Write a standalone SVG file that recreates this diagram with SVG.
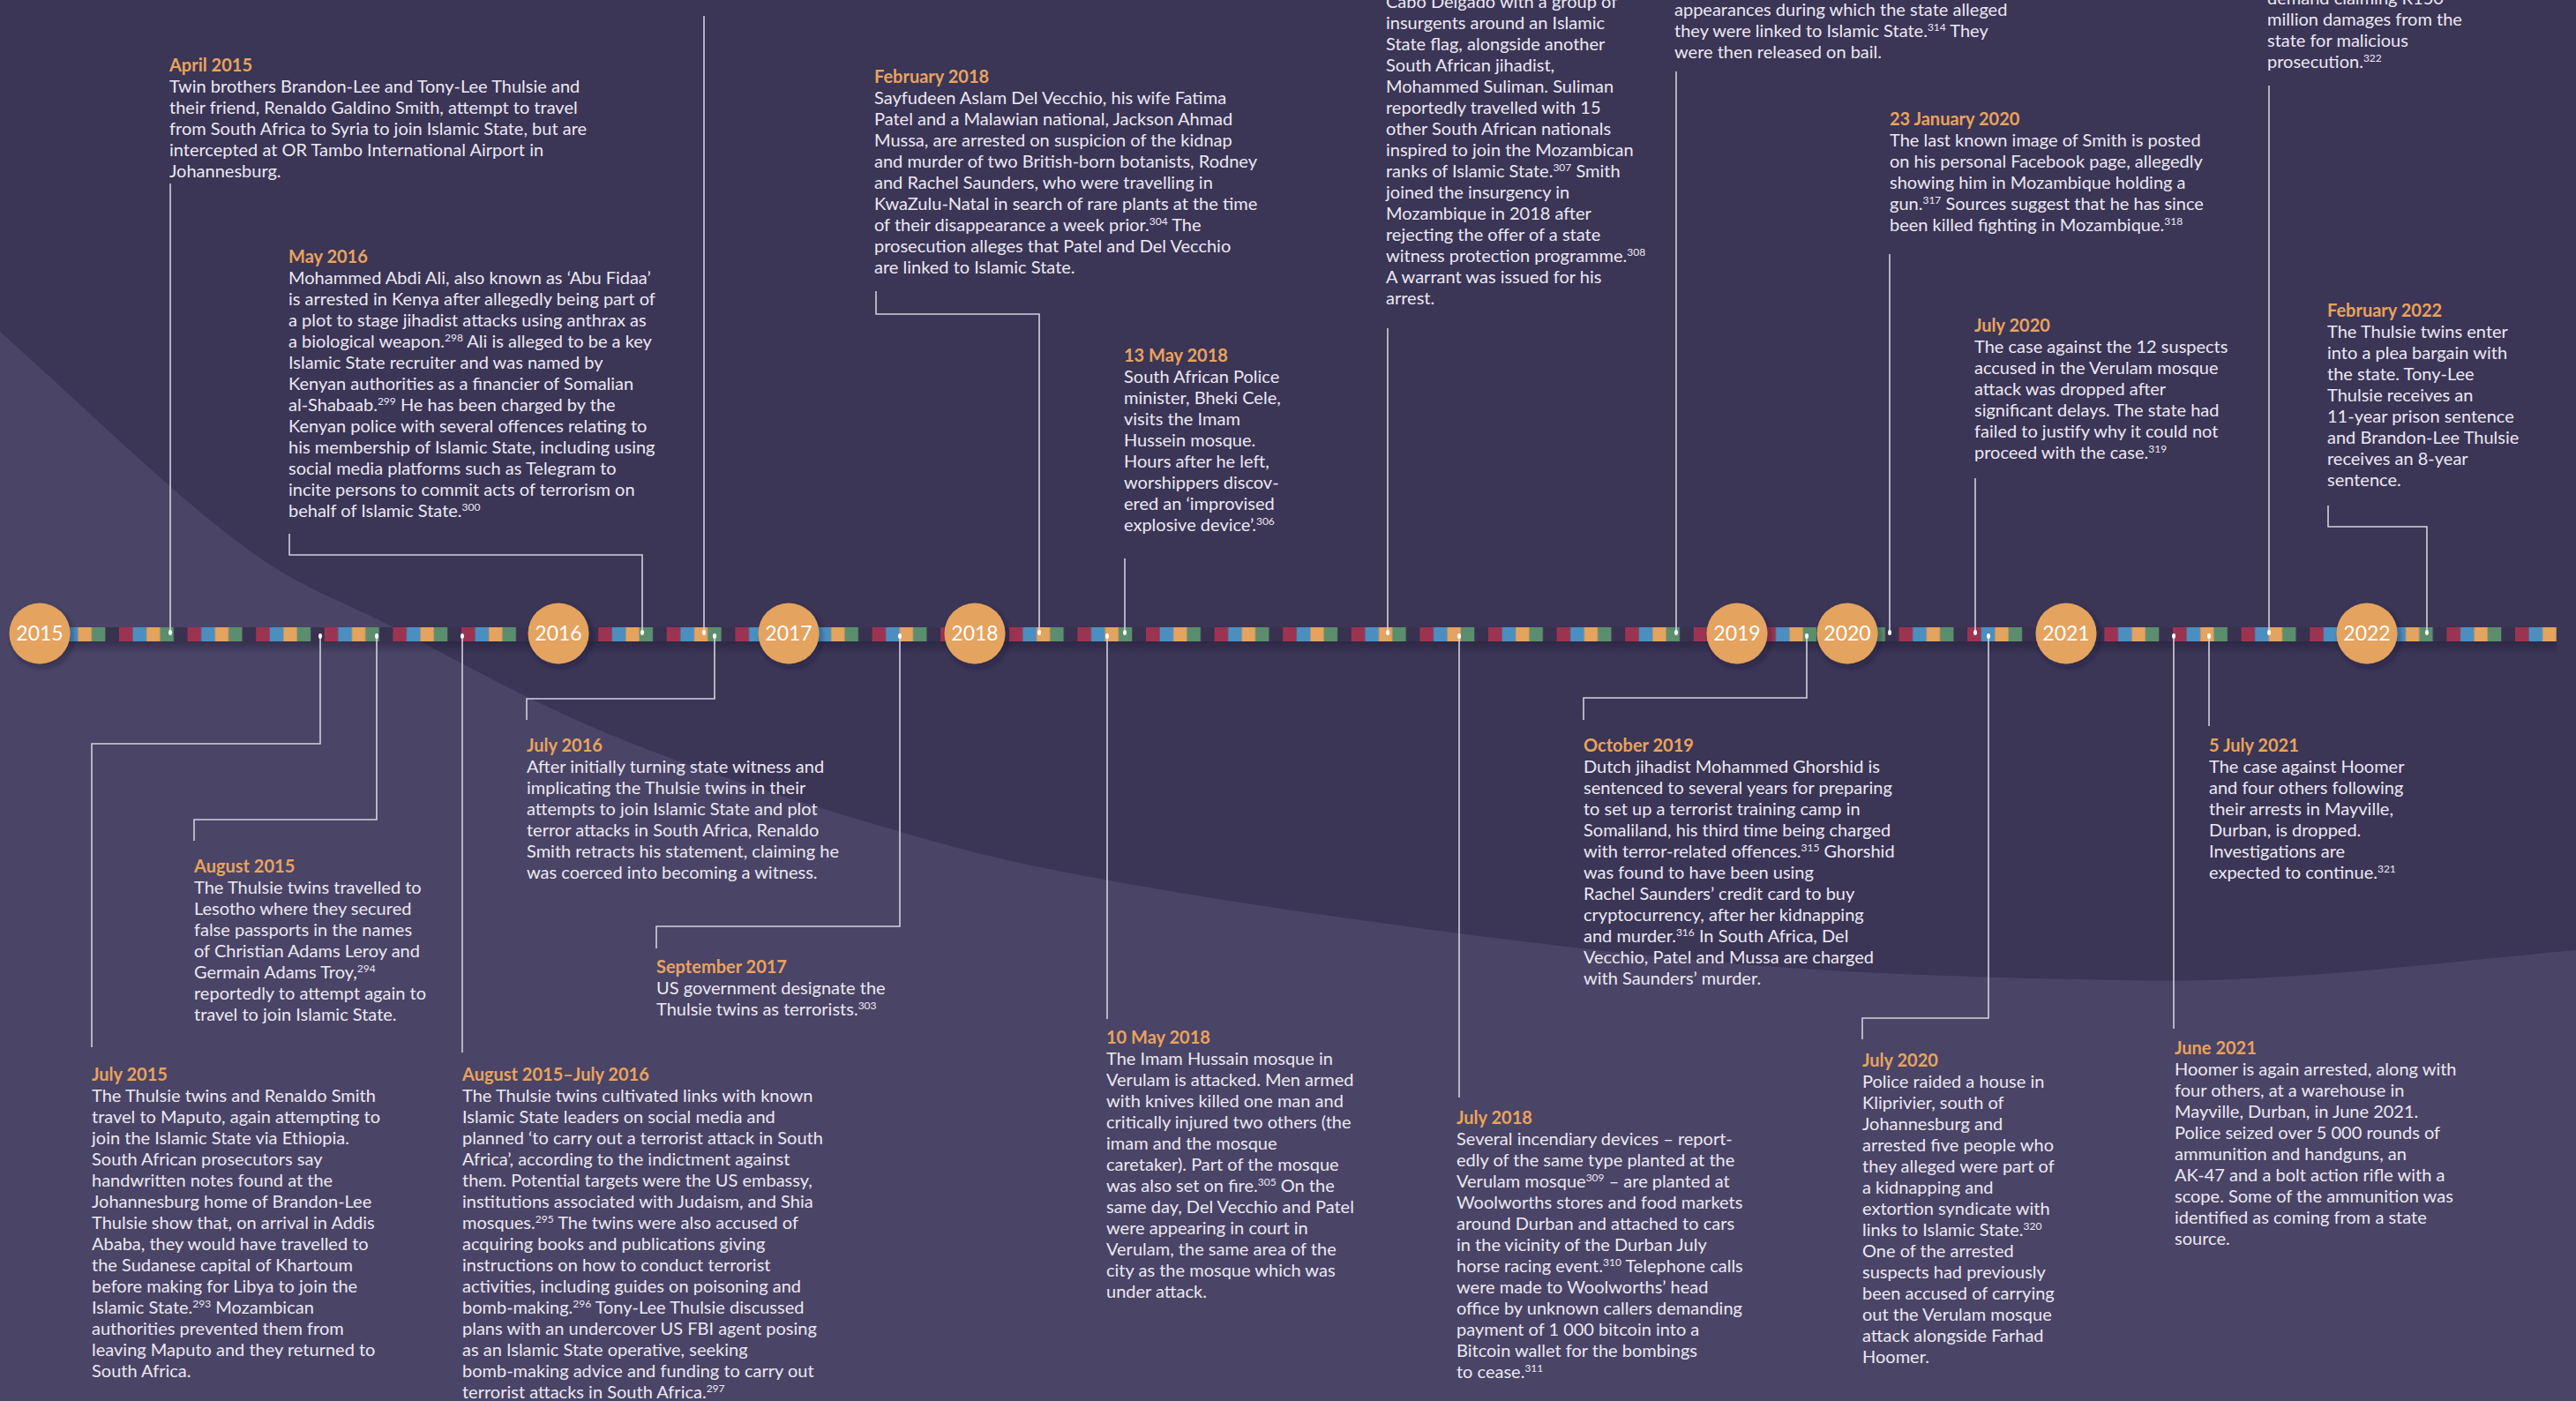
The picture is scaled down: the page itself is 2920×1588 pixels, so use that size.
<svg xmlns="http://www.w3.org/2000/svg" width="2920" height="1588" viewBox="0 0 2920 1588">
<defs>
<style>
.t{font-family:Lato,"Open Sans","Liberation Sans",sans-serif;font-size:20px;fill:#ebe8f1}
.d{font-family:Lato,"Open Sans","Liberation Sans",sans-serif;font-size:20px;font-weight:bold;fill:#e8a35c}
.s{font-size:12px}
.c{fill:none;stroke:#d3d0dc;stroke-width:1.6}
.dot{fill:#ffffff}
.yr{fill:#e4a35f;filter:url(#sh)}
.yt{font-family:Lato,"Open Sans","Liberation Sans",sans-serif;font-size:23px;fill:#ffffff;text-anchor:middle}
</style>
<filter id="sh" x="-30%" y="-30%" width="160%" height="160%">
<feDropShadow dx="3" dy="4" stdDeviation="3" flood-color="#1c1830" flood-opacity="0.45"/>
</filter>
<linearGradient id="bandsh" x1="0" y1="0" x2="0" y2="1">
<stop offset="0" stop-color="#1c1830" stop-opacity="0.45"/>
<stop offset="1" stop-color="#1c1830" stop-opacity="0"/>
</linearGradient>
<pattern id="stripes" x="135" y="711" width="77.6" height="16" patternUnits="userSpaceOnUse">
<rect x="0" y="0" width="15.6" height="16" fill="#9c3451"/>
<rect x="15.52" y="0" width="15.6" height="16" fill="#4b8fc1"/>
<rect x="31.04" y="0" width="15.6" height="16" fill="#e4a35f"/>
<rect x="46.56" y="0" width="15.6" height="16" fill="#5b8e6e"/>
<rect x="62.08" y="0" width="15.52" height="16" fill="#38314f"/>
</pattern>
</defs>

<rect x="0" y="0" width="2920" height="1588" fill="#3b3556"/>
<path d="M0,376 C89,455 194,558 268,613 C342,669 370,672 442,709 C514,746 605,798 700,836 C795,875 919,913 1011,940 C1103,967 1145,977 1252,997 C1359,1017 1529,1042 1654,1058 C1779,1074 1884,1086 2000,1095 C2116,1104 2254,1108 2352,1110 C2450,1112 2492,1113 2587,1107 C2682,1102 2809,1087 2920,1077 L2920,1588 L0,1588 Z" fill="#4a4466"/>

<g id="timeline">
<rect x="45" y="727" width="2853" height="14" fill="url(#bandsh)"/>
<rect x="45" y="711" width="2853" height="16" fill="url(#stripes)"/>
</g>

<g id="connectors">
<path class="c" d="M193,208 V717"/>
<path class="c" d="M328,605 V629 H728 V717"/>
<path class="c" d="M798,18 V717"/>
<path class="c" d="M993,330 V356 H1178 V717"/>
<path class="c" d="M1275,633 V717"/>
<path class="c" d="M1573,372 V717"/>
<path class="c" d="M1900,81 V717"/>
<path class="c" d="M2142,288 V717"/>
<path class="c" d="M2239,542 V717"/>
<path class="c" d="M2572,97 V717"/>
<path class="c" d="M2639,573 V597 H2751 V717"/>
<path class="c" d="M363,721 V843 H104 V1187"/>
<path class="c" d="M427,721 V929 H220 V953"/>
<path class="c" d="M524,721 V1193"/>
<path class="c" d="M810,721 V792 H597 V816"/>
<path class="c" d="M1020,721 V1050 H744 V1075"/>
<path class="c" d="M1255,721 V1155"/>
<path class="c" d="M1654,721 V1244"/>
<path class="c" d="M2048,721 V791 H1795 V816"/>
<path class="c" d="M2254,721 V1154 H2111 V1178"/>
<path class="c" d="M2464,721 V1166"/>
<path class="c" d="M2504,721 V823"/>
<g class="dot">
<ellipse cx="193" cy="717" rx="2" ry="3"/>
<ellipse cx="728" cy="717" rx="2" ry="3"/>
<ellipse cx="798" cy="717" rx="2" ry="3"/>
<ellipse cx="1178" cy="717" rx="2" ry="3"/>
<ellipse cx="1275" cy="717" rx="2" ry="3"/>
<ellipse cx="1573" cy="717" rx="2" ry="3"/>
<ellipse cx="1900" cy="717" rx="2" ry="3"/>
<ellipse cx="2142" cy="717" rx="2" ry="3"/>
<ellipse cx="2239" cy="717" rx="2" ry="3"/>
<ellipse cx="2572" cy="717" rx="2" ry="3"/>
<ellipse cx="2751" cy="717" rx="2" ry="3"/>
<ellipse cx="363" cy="721" rx="2" ry="3"/>
<ellipse cx="427" cy="721" rx="2" ry="3"/>
<ellipse cx="524" cy="721" rx="2" ry="3"/>
<ellipse cx="810" cy="721" rx="2" ry="3"/>
<ellipse cx="1020" cy="721" rx="2" ry="3"/>
<ellipse cx="1255" cy="721" rx="2" ry="3"/>
<ellipse cx="1654" cy="721" rx="2" ry="3"/>
<ellipse cx="2048" cy="721" rx="2" ry="3"/>
<ellipse cx="2254" cy="721" rx="2" ry="3"/>
<ellipse cx="2464" cy="721" rx="2" ry="3"/>
<ellipse cx="2504" cy="721" rx="2" ry="3"/>
</g>
</g>

<g id="years">
<g id="y2015"><circle class="yr" cx="45" cy="718" r="34.5"/><text class="yt" x="45" y="726">2015</text></g>
<g id="y2016"><circle class="yr" cx="633" cy="718" r="34.5"/><text class="yt" x="633" y="726">2016</text></g>
<g id="y2017"><circle class="yr" cx="894" cy="718" r="34.5"/><text class="yt" x="894" y="726">2017</text></g>
<g id="y2018"><circle class="yr" cx="1105" cy="718" r="34.5"/><text class="yt" x="1105" y="726">2018</text></g>
<g id="y2019"><circle class="yr" cx="1969" cy="718" r="34.5"/><text class="yt" x="1969" y="726">2019</text></g>
<g id="y2020"><circle class="yr" cx="2094" cy="718" r="34.5"/><text class="yt" x="2094" y="726">2020</text></g>
<g id="y2021"><circle class="yr" cx="2342" cy="718" r="34.5"/><text class="yt" x="2342" y="726">2021</text></g>
<g id="y2022"><circle class="yr" cx="2683" cy="718" r="34.5"/><text class="yt" x="2683" y="726">2022</text></g>
</g>

<g id="ev-apr2015">
<text class="d" x="192" y="81">April 2015</text>
<text class="t"><tspan x="192" y="105">Twin brothers Brandon-Lee and Tony-Lee Thulsie and</tspan><tspan x="192" y="129">their friend, Renaldo Galdino Smith, attempt to travel</tspan><tspan x="192" y="153">from South Africa to Syria to join Islamic State, but are</tspan><tspan x="192" y="177">intercepted at OR Tambo International Airport in</tspan><tspan x="192" y="201">Johannesburg.</tspan></text>
</g>

<g id="ev-may2016">
<text class="d" x="327" y="298">May 2016</text>
<text class="t"><tspan x="327" y="322">Mohammed Abdi Ali, also known as ‘Abu Fidaa’</tspan><tspan x="327" y="346">is arrested in Kenya after allegedly being part of</tspan><tspan x="327" y="370">a plot to stage jihadist attacks using anthrax as</tspan><tspan x="327" y="394">a biological weapon.</tspan><tspan class="s" dy="-7">298</tspan><tspan dy="7"> Ali is alleged to be a key</tspan><tspan x="327" y="418">Islamic State recruiter and was named by</tspan><tspan x="327" y="442">Kenyan authorities as a financier of Somalian</tspan><tspan x="327" y="466">al-Shabaab.</tspan><tspan class="s" dy="-7">299</tspan><tspan dy="7"> He has been charged by the</tspan><tspan x="327" y="490">Kenyan police with several offences relating to</tspan><tspan x="327" y="514">his membership of Islamic State, including using</tspan><tspan x="327" y="538">social media platforms such as Telegram to</tspan><tspan x="327" y="562">incite persons to commit acts of terrorism on</tspan><tspan x="327" y="586">behalf of Islamic State.</tspan><tspan class="s" dy="-7">300</tspan></text>
</g>

<g id="ev-feb2018">
<text class="d" x="991" y="94">February 2018</text>
<text class="t"><tspan x="991" y="118">Sayfudeen Aslam Del Vecchio, his wife Fatima</tspan><tspan x="991" y="142">Patel and a Malawian national, Jackson Ahmad</tspan><tspan x="991" y="166">Mussa, are arrested on suspicion of the kidnap</tspan><tspan x="991" y="190">and murder of two British-born botanists, Rodney</tspan><tspan x="991" y="214">and Rachel Saunders, who were travelling in</tspan><tspan x="991" y="238">KwaZulu-Natal in search of rare plants at the time</tspan><tspan x="991" y="262">of their disappearance a week prior.</tspan><tspan class="s" dy="-7">304</tspan><tspan dy="7"> The</tspan><tspan x="991" y="286">prosecution alleges that Patel and Del Vecchio</tspan><tspan x="991" y="310">are linked to Islamic State.</tspan></text>
</g>

<g id="ev-13may2018">
<text class="d" x="1274" y="410">13 May 2018</text>
<text class="t"><tspan x="1274" y="434">South African Police</tspan><tspan x="1274" y="458">minister, Bheki Cele,</tspan><tspan x="1274" y="482">visits the Imam</tspan><tspan x="1274" y="506">Hussein mosque.</tspan><tspan x="1274" y="530">Hours after he left,</tspan><tspan x="1274" y="554">worshippers discov-</tspan><tspan x="1274" y="578">ered an ‘improvised</tspan><tspan x="1274" y="602">explosive device’.</tspan><tspan class="s" dy="-7">306</tspan></text>
</g>

<g id="ev-cabo">
<text class="t"><tspan x="1571" y="9">Cabo Delgado with a group of</tspan><tspan x="1571" y="33">insurgents around an Islamic</tspan><tspan x="1571" y="57">State flag, alongside another</tspan><tspan x="1571" y="81">South African jihadist,</tspan><tspan x="1571" y="105">Mohammed Suliman. Suliman</tspan><tspan x="1571" y="129">reportedly travelled with 15</tspan><tspan x="1571" y="153">other South African nationals</tspan><tspan x="1571" y="177">inspired to join the Mozambican</tspan><tspan x="1571" y="201">ranks of Islamic State.</tspan><tspan class="s" dy="-7">307</tspan><tspan dy="7"> Smith</tspan><tspan x="1571" y="225">joined the insurgency in</tspan><tspan x="1571" y="249">Mozambique in 2018 after</tspan><tspan x="1571" y="273">rejecting the offer of a state</tspan><tspan x="1571" y="297">witness protection programme.</tspan><tspan class="s" dy="-7">308</tspan><tspan x="1571" y="321">A warrant was issued for his</tspan><tspan x="1571" y="345">arrest.</tspan></text>
</g>

<g id="ev-appearances">
<text class="t"><tspan x="1898" y="18">appearances during which the state alleged</tspan><tspan x="1898" y="42">they were linked to Islamic State.</tspan><tspan class="s" dy="-7">314</tspan><tspan dy="7"> They</tspan><tspan x="1898" y="66">were then released on bail.</tspan></text>
</g>

<g id="ev-23jan2020">
<text class="d" x="2142" y="142">23 January 2020</text>
<text class="t"><tspan x="2142" y="166">The last known image of Smith is posted</tspan><tspan x="2142" y="190">on his personal Facebook page, allegedly</tspan><tspan x="2142" y="214">showing him in Mozambique holding a</tspan><tspan x="2142" y="238">gun.</tspan><tspan class="s" dy="-7">317</tspan><tspan dy="7"> Sources suggest that he has since</tspan><tspan x="2142" y="262">been killed fighting in Mozambique.</tspan><tspan class="s" dy="-7">318</tspan></text>
</g>

<g id="ev-jul2020a">
<text class="d" x="2238" y="376">July 2020</text>
<text class="t"><tspan x="2238" y="400">The case against the 12 suspects</tspan><tspan x="2238" y="424">accused in the Verulam mosque</tspan><tspan x="2238" y="448">attack was dropped after</tspan><tspan x="2238" y="472">significant delays. The state had</tspan><tspan x="2238" y="496">failed to justify why it could not</tspan><tspan x="2238" y="520">proceed with the case.</tspan><tspan class="s" dy="-7">319</tspan></text>
</g>

<g id="ev-demand">
<text class="t"><tspan x="2570" y="5">demand claiming R150</tspan><tspan x="2570" y="29">million damages from the</tspan><tspan x="2570" y="53">state for malicious</tspan><tspan x="2570" y="77">prosecution.</tspan><tspan class="s" dy="-7">322</tspan></text>
</g>

<g id="ev-feb2022">
<text class="d" x="2638" y="359">February 2022</text>
<text class="t"><tspan x="2638" y="383">The Thulsie twins enter</tspan><tspan x="2638" y="407">into a plea bargain with</tspan><tspan x="2638" y="431">the state. Tony-Lee</tspan><tspan x="2638" y="455">Thulsie receives an</tspan><tspan x="2638" y="479">11-year prison sentence</tspan><tspan x="2638" y="503">and Brandon-Lee Thulsie</tspan><tspan x="2638" y="527">receives an 8-year</tspan><tspan x="2638" y="551">sentence.</tspan></text>
</g>

<g id="ev-jul2015">
<text class="d" x="104" y="1225">July 2015</text>
<text class="t"><tspan x="104" y="1249">The Thulsie twins and Renaldo Smith</tspan><tspan x="104" y="1273">travel to Maputo, again attempting to</tspan><tspan x="104" y="1297">join the Islamic State via Ethiopia.</tspan><tspan x="104" y="1321">South African prosecutors say</tspan><tspan x="104" y="1345">handwritten notes found at the</tspan><tspan x="104" y="1369">Johannesburg home of Brandon-Lee</tspan><tspan x="104" y="1393">Thulsie show that, on arrival in Addis</tspan><tspan x="104" y="1417">Ababa, they would have travelled to</tspan><tspan x="104" y="1441">the Sudanese capital of Khartoum</tspan><tspan x="104" y="1465">before making for Libya to join the</tspan><tspan x="104" y="1489">Islamic State.</tspan><tspan class="s" dy="-7">293</tspan><tspan dy="7"> Mozambican</tspan><tspan x="104" y="1513">authorities prevented them from</tspan><tspan x="104" y="1537">leaving Maputo and they returned to</tspan><tspan x="104" y="1561">South Africa.</tspan></text>
</g>

<g id="ev-aug2015">
<text class="d" x="220" y="989">August 2015</text>
<text class="t"><tspan x="220" y="1013">The Thulsie twins travelled to</tspan><tspan x="220" y="1037">Lesotho where they secured</tspan><tspan x="220" y="1061">false passports in the names</tspan><tspan x="220" y="1085">of Christian Adams Leroy and</tspan><tspan x="220" y="1109">Germain Adams Troy,</tspan><tspan class="s" dy="-7">294</tspan><tspan x="220" y="1133">reportedly to attempt again to</tspan><tspan x="220" y="1157">travel to join Islamic State.</tspan></text>
</g>

<g id="ev-aug2015-jul2016">
<text class="d" x="524" y="1225">August 2015–July 2016</text>
<text class="t"><tspan x="524" y="1249">The Thulsie twins cultivated links with known</tspan><tspan x="524" y="1273">Islamic State leaders on social media and</tspan><tspan x="524" y="1297">planned ‘to carry out a terrorist attack in South</tspan><tspan x="524" y="1321">Africa’, according to the indictment against</tspan><tspan x="524" y="1345">them. Potential targets were the US embassy,</tspan><tspan x="524" y="1369">institutions associated with Judaism, and Shia</tspan><tspan x="524" y="1393">mosques.</tspan><tspan class="s" dy="-7">295</tspan><tspan dy="7">  The twins were also accused of</tspan><tspan x="524" y="1417">acquiring books and publications giving</tspan><tspan x="524" y="1441">instructions on how to conduct terrorist</tspan><tspan x="524" y="1465">activities, including guides on poisoning and</tspan><tspan x="524" y="1489">bomb-making.</tspan><tspan class="s" dy="-7">296</tspan><tspan dy="7"> Tony-Lee Thulsie discussed</tspan><tspan x="524" y="1513">plans with an undercover US FBI agent posing</tspan><tspan x="524" y="1537">as an Islamic State operative, seeking</tspan><tspan x="524" y="1561">bomb-making advice and funding to carry out</tspan><tspan x="524" y="1585">terrorist attacks in South Africa.</tspan><tspan class="s" dy="-7">297</tspan></text>
</g>

<g id="ev-jul2016">
<text class="d" x="597" y="852">July 2016</text>
<text class="t"><tspan x="597" y="876">After initially turning state witness and</tspan><tspan x="597" y="900">implicating the Thulsie twins in their</tspan><tspan x="597" y="924">attempts to join Islamic State and plot</tspan><tspan x="597" y="948">terror attacks in South Africa, Renaldo</tspan><tspan x="597" y="972">Smith retracts his statement, claiming he</tspan><tspan x="597" y="996">was coerced into becoming a witness.</tspan></text>
</g>

<g id="ev-sep2017">
<text class="d" x="744" y="1103">September 2017</text>
<text class="t"><tspan x="744" y="1127">US government designate the</tspan><tspan x="744" y="1151">Thulsie twins as terrorists.</tspan><tspan class="s" dy="-7">303</tspan></text>
</g>

<g id="ev-10may2018">
<text class="d" x="1254" y="1183">10 May 2018</text>
<text class="t"><tspan x="1254" y="1207">The Imam Hussain mosque in</tspan><tspan x="1254" y="1231">Verulam is attacked. Men armed</tspan><tspan x="1254" y="1255">with knives killed one man and</tspan><tspan x="1254" y="1279">critically injured two others (the</tspan><tspan x="1254" y="1303">imam and the mosque</tspan><tspan x="1254" y="1327">caretaker). Part of the mosque</tspan><tspan x="1254" y="1351">was also set on fire.</tspan><tspan class="s" dy="-7">305</tspan><tspan dy="7"> On the</tspan><tspan x="1254" y="1375">same day, Del Vecchio and Patel</tspan><tspan x="1254" y="1399">were appearing in court in</tspan><tspan x="1254" y="1423">Verulam, the same area of the</tspan><tspan x="1254" y="1447">city as the mosque which was</tspan><tspan x="1254" y="1471">under attack.</tspan></text>
</g>

<g id="ev-jul2018">
<text class="d" x="1651" y="1274">July 2018</text>
<text class="t"><tspan x="1651" y="1298">Several incendiary devices – report-</tspan><tspan x="1651" y="1322">edly of the same type planted at the</tspan><tspan x="1651" y="1346">Verulam mosque</tspan><tspan class="s" dy="-7">309</tspan><tspan dy="7"> – are planted at</tspan><tspan x="1651" y="1370">Woolworths stores and food markets</tspan><tspan x="1651" y="1394">around Durban and attached to cars</tspan><tspan x="1651" y="1418">in the vicinity of the Durban July</tspan><tspan x="1651" y="1442">horse racing event.</tspan><tspan class="s" dy="-7">310</tspan><tspan dy="7"> Telephone calls</tspan><tspan x="1651" y="1466">were made to Woolworths’ head</tspan><tspan x="1651" y="1490">office by unknown callers demanding</tspan><tspan x="1651" y="1514">payment of 1 000 bitcoin into a</tspan><tspan x="1651" y="1538">Bitcoin wallet for the bombings</tspan><tspan x="1651" y="1562">to cease.</tspan><tspan class="s" dy="-7">311</tspan></text>
</g>

<g id="ev-oct2019">
<text class="d" x="1795" y="852">October 2019</text>
<text class="t"><tspan x="1795" y="876">Dutch jihadist Mohammed Ghorshid is</tspan><tspan x="1795" y="900">sentenced to several years for preparing</tspan><tspan x="1795" y="924">to set up a terrorist training camp in</tspan><tspan x="1795" y="948">Somaliland, his third time being charged</tspan><tspan x="1795" y="972">with terror-related offences.</tspan><tspan class="s" dy="-7">315</tspan><tspan dy="7"> Ghorshid</tspan><tspan x="1795" y="996">was found to have been using</tspan><tspan x="1795" y="1020">Rachel Saunders’ credit card to buy</tspan><tspan x="1795" y="1044">cryptocurrency, after her kidnapping</tspan><tspan x="1795" y="1068">and murder.</tspan><tspan class="s" dy="-7">316</tspan><tspan dy="7"> In South Africa, Del</tspan><tspan x="1795" y="1092">Vecchio, Patel and Mussa are charged</tspan><tspan x="1795" y="1116">with Saunders’ murder.</tspan></text>
</g>

<g id="ev-jul2020b">
<text class="d" x="2111" y="1209">July 2020</text>
<text class="t"><tspan x="2111" y="1233">Police raided a house in</tspan><tspan x="2111" y="1257">Kliprivier, south of</tspan><tspan x="2111" y="1281">Johannesburg and</tspan><tspan x="2111" y="1305">arrested five people who</tspan><tspan x="2111" y="1329">they alleged were part of</tspan><tspan x="2111" y="1353">a kidnapping and</tspan><tspan x="2111" y="1377">extortion syndicate with</tspan><tspan x="2111" y="1401">links to Islamic State.</tspan><tspan class="s" dy="-7">320</tspan><tspan x="2111" y="1425">One of the arrested</tspan><tspan x="2111" y="1449">suspects had previously</tspan><tspan x="2111" y="1473">been accused of carrying</tspan><tspan x="2111" y="1497">out the Verulam mosque</tspan><tspan x="2111" y="1521">attack alongside Farhad</tspan><tspan x="2111" y="1545">Hoomer.</tspan></text>
</g>

<g id="ev-jun2021">
<text class="d" x="2465" y="1195">June 2021</text>
<text class="t"><tspan x="2465" y="1219">Hoomer is again arrested, along with</tspan><tspan x="2465" y="1243">four others, at a warehouse in</tspan><tspan x="2465" y="1267">Mayville, Durban, in June 2021.</tspan><tspan x="2465" y="1291">Police seized over 5 000 rounds of</tspan><tspan x="2465" y="1315">ammunition and handguns, an</tspan><tspan x="2465" y="1339">AK-47 and a bolt action rifle with a</tspan><tspan x="2465" y="1363">scope. Some of the ammunition was</tspan><tspan x="2465" y="1387">identified as coming from a state</tspan><tspan x="2465" y="1411">source.</tspan></text>
</g>

<g id="ev-5jul2021">
<text class="d" x="2504" y="852">5 July 2021</text>
<text class="t"><tspan x="2504" y="876">The case against Hoomer</tspan><tspan x="2504" y="900">and four others following</tspan><tspan x="2504" y="924">their arrests in Mayville,</tspan><tspan x="2504" y="948">Durban, is dropped.</tspan><tspan x="2504" y="972">Investigations are</tspan><tspan x="2504" y="996">expected to continue.</tspan><tspan class="s" dy="-7">321</tspan></text>
</g>
</svg>
